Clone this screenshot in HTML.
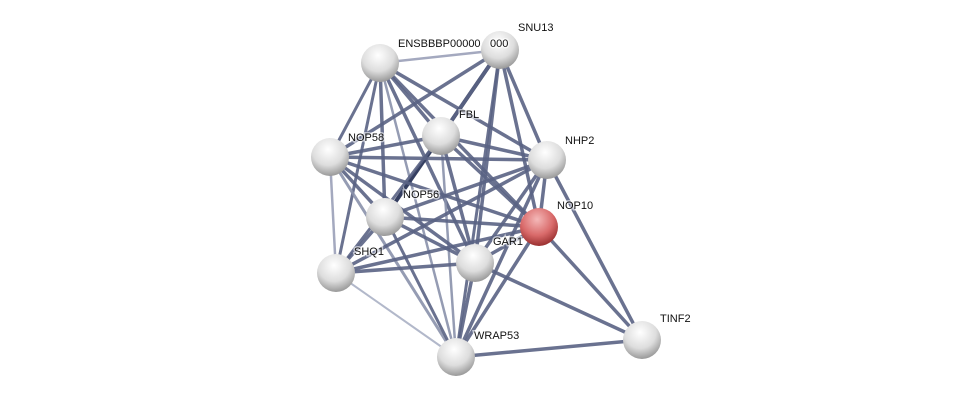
<!DOCTYPE html>
<html><head><meta charset="utf-8"><style>
html,body{margin:0;padding:0;background:#fff;width:976px;height:402px;overflow:hidden}
text{font-family:"Liberation Sans",sans-serif;font-size:11px;fill:#111;paint-order:stroke;stroke:#fff;stroke-width:3px;stroke-opacity:.6}
</style></head><body>
<svg width="976" height="402" xmlns="http://www.w3.org/2000/svg">
<defs>
<radialGradient id="g" cx="45%" cy="30%" r="70%">
<stop offset="0" stop-color="#fff"/><stop offset=".6" stop-color="#ddd"/><stop offset="1" stop-color="#999"/></radialGradient>
<radialGradient id="r" cx="45%" cy="30%" r="70%">
<stop offset="0" stop-color="#f4b8b8"/><stop offset=".6" stop-color="#d96a6a"/><stop offset="1" stop-color="#9a3030"/></radialGradient>
</defs>
<g stroke="#5a6384" stroke-width="3.5" stroke-opacity=".9" stroke-linecap="round">
<line x1="380" y1="63" x2="500" y2="50" stroke="#9aa0b8" stroke-width="2.5"/>
<line x1="380" y1="63" x2="441" y2="136"/>
<line x1="380" y1="63" x2="330" y2="157" stroke-width="3"/>
<line x1="380" y1="63" x2="547" y2="160"/>
<line x1="380" y1="63" x2="385" y2="217"/>
<line x1="380" y1="63" x2="539" y2="227"/>
<line x1="380" y1="63" x2="475" y2="263"/>
<line x1="380" y1="63" x2="336" y2="273" stroke-width="3"/>
<line x1="380" y1="63" x2="456" y2="357" stroke="#8a91ab" stroke-width="2.5"/>
<line x1="500" y1="50" x2="441" y2="136" stroke="#303a5c" stroke-width="4"/>
<line x1="500" y1="50" x2="330" y2="157"/>
<line x1="500" y1="50" x2="547" y2="160"/>
<line x1="500" y1="50" x2="385" y2="217"/>
<line x1="500" y1="50" x2="539" y2="227"/>
<line x1="500" y1="50" x2="475" y2="263"/>
<line x1="500" y1="50" x2="456" y2="357" stroke-width="3"/>
<line x1="441" y1="136" x2="330" y2="157"/>
<line x1="441" y1="136" x2="547" y2="160"/>
<line x1="441" y1="136" x2="385" y2="217" stroke="#303a5c" stroke-width="4"/>
<line x1="441" y1="136" x2="539" y2="227"/>
<line x1="441" y1="136" x2="475" y2="263"/>
<line x1="441" y1="136" x2="336" y2="273" stroke-width="3"/>
<line x1="441" y1="136" x2="456" y2="357" stroke="#8a91ab" stroke-width="2.5"/>
<line x1="330" y1="157" x2="547" y2="160"/>
<line x1="330" y1="157" x2="385" y2="217"/>
<line x1="330" y1="157" x2="539" y2="227"/>
<line x1="330" y1="157" x2="475" y2="263"/>
<line x1="330" y1="157" x2="336" y2="273" stroke="#9aa0b8" stroke-width="2.5"/>
<line x1="330" y1="157" x2="456" y2="357" stroke="#8a91ab" stroke-width="3"/>
<line x1="547" y1="160" x2="385" y2="217"/>
<line x1="547" y1="160" x2="539" y2="227"/>
<line x1="547" y1="160" x2="475" y2="263"/>
<line x1="547" y1="160" x2="336" y2="273"/>
<line x1="547" y1="160" x2="456" y2="357"/>
<line x1="547" y1="160" x2="642" y2="340"/>
<line x1="385" y1="217" x2="539" y2="227"/>
<line x1="385" y1="217" x2="475" y2="263"/>
<line x1="385" y1="217" x2="336" y2="273"/>
<line x1="385" y1="217" x2="456" y2="357" stroke-width="3"/>
<line x1="539" y1="227" x2="475" y2="263"/>
<line x1="539" y1="227" x2="336" y2="273"/>
<line x1="539" y1="227" x2="456" y2="357"/>
<line x1="539" y1="227" x2="642" y2="340"/>
<line x1="475" y1="263" x2="336" y2="273"/>
<line x1="475" y1="263" x2="456" y2="357"/>
<line x1="475" y1="263" x2="642" y2="340"/>
<line x1="336" y1="273" x2="456" y2="357" stroke="#aab0c4" stroke-width="2"/>
<line x1="456" y1="357" x2="642" y2="340"/>
</g>
<g>
<circle cx="380" cy="63" r="19" fill="url(#g)"/>
<circle cx="500" cy="50" r="19" fill="url(#g)"/>
<circle cx="441" cy="136" r="19" fill="url(#g)"/>
<circle cx="330" cy="157" r="19" fill="url(#g)"/>
<circle cx="547" cy="160" r="19" fill="url(#g)"/>
<circle cx="385" cy="217" r="19" fill="url(#g)"/>
<circle cx="539" cy="227" r="19" fill="url(#r)"/>
<circle cx="475" cy="263" r="19" fill="url(#g)"/>
<circle cx="336" cy="273" r="19" fill="url(#g)"/>
<circle cx="456" cy="357" r="19" fill="url(#g)"/>
<circle cx="642" cy="340" r="19" fill="url(#g)"/>
</g>
<text x="398" y="47">ENSBBBP00000</text>
<text x="490" y="47">000</text>
<text x="518" y="31">SNU13</text>
<text x="459" y="118">FBL</text>
<text x="348" y="141">NOP58</text>
<text x="565" y="144">NHP2</text>
<text x="403" y="198">NOP56</text>
<text x="557" y="209">NOP10</text>
<text x="493" y="245">GAR1</text>
<text x="354" y="255">SHQ1</text>
<text x="474" y="339">WRAP53</text>
<text x="660" y="322">TINF2</text>
</svg>
</body></html>
